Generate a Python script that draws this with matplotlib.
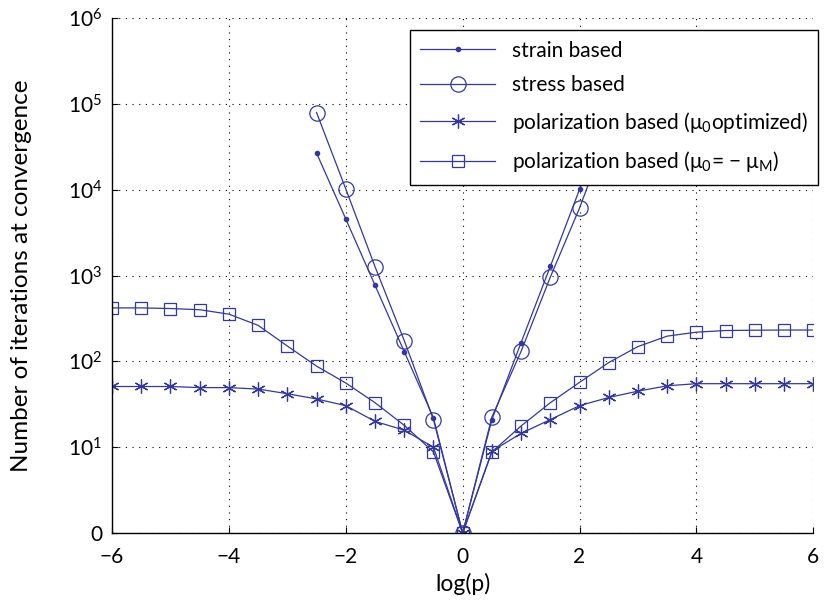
"""
Число итераций до сходимости в зависимости от log(p).
"""

import numpy as np
import matplotlib.pyplot as plt
from matplotlib.ticker import FixedLocator, NullLocator

# Данные
log_p_strain = [-2.5, -2, -1.5, -1, -0.5, 0, 0.5, 1, 1.5, 2, 2.5]
iter_strain = [26700, 4560, 770, 130, 22, 1, 21, 166, 1280, 10100, 80000]

log_p_stress = [-2.5, -2, -1.5, -1, -0.5, 0, 0.5, 1, 1.5, 2, 2.5]
iter_stress = [79200, 10200, 1270, 175, 21, 1, 22.5, 131, 960, 6130, 50000]

log_p_pol = [-6, -5.5, -5, -4.5, -4, -3.5, -3, -2.5, -2, -1.5, -1, -0.5, 0,
             0.5, 1, 1.5, 2, 2.5, 3, 3.5, 4, 4.5, 5, 5.5, 6]
iter_pol_opt = [51, 51, 51, 49.5, 49.5, 47.6, 42, 36.5, 30.5, 20, 15.8, 10, 1,
                9, 14.5, 21, 30.5, 38, 45, 52, 55, 55, 55, 55, 55]
iter_pol_mu = [420, 420, 413, 400, 355, 263, 151, 88, 56, 33, 18, 8.8, 1,
               8.8, 17.7, 33, 57, 97, 149, 197, 219, 229, 231, 232, 232]

x_ticks = [-6, -4, -2, 0, 2, 4, 6]
y_ticks = [1, 1e1, 1e2, 1e3, 1e4, 1e5, 1e6]
y_tick_labels = ['0', '$10^1$', '$10^2$', '$10^3$', '$10^4$', '$10^5$', '$10^6$']

labels = ['strain based',
          'stress based',
          'polarization based (μ$_0$optimized)',
          'polarization based (μ$_0$= − μ$_M$)']

plt.rcParams['font.family'] = ['Lato', 'DejaVu Sans']
plt.rcParams['mathtext.fontset'] = 'custom'
plt.rcParams['mathtext.rm'] = 'Lato'
plt.rcParams['mathtext.it'] = 'Lato'
plt.rcParams['axes.unicode_minus'] = True

color = '#3338a0'

fig = plt.figure(figsize=(8.24, 6.03), dpi=100)
ax = fig.add_axes([0.136, 0.116, 0.851, 0.854])

ax.plot(log_p_strain, iter_strain, '-', marker='.', color=color, lw=0.9,
        markersize=6, label=labels[0])
ax.plot(log_p_stress, iter_stress, '-', marker='o', color=color, lw=0.9,
        markersize=11, markerfacecolor='none', markeredgewidth=0.9,
        label=labels[1])
ax.plot(log_p_pol, iter_pol_opt, '-', marker=(6, 2, 0), color=color, lw=0.9,
        markersize=10, markeredgewidth=0.9, label=labels[2])
ax.plot(log_p_pol, iter_pol_mu, '-', marker='s', color=color, lw=0.9,
        markersize=9, markerfacecolor='none', markeredgewidth=0.9,
        label=labels[3])

ax.set_yscale('log')
ax.set_xlim(-6, 6)
ax.set_ylim(1, 1e6)
ax.xaxis.set_major_locator(FixedLocator(x_ticks))
ax.yaxis.set_major_locator(FixedLocator(y_ticks))
ax.yaxis.set_minor_locator(NullLocator())
ax.set_yticklabels(y_tick_labels)
ax.tick_params(direction='in', length=4, width=0.8, labelsize=15)
ax.tick_params(axis='x', pad=10)
ax.tick_params(axis='y', pad=7)

ax.spines['top'].set_visible(False)
ax.spines['right'].set_visible(False)
for s in ('left', 'bottom'):
    ax.spines[s].set_linewidth(1.0)

ax.grid(True, which='major', color='black', linestyle=(0, (1, 5)),
        linewidth=0.8)

ax.set_xlabel('log(p)', fontsize=16.5, labelpad=4)
ax.set_ylabel('Number of iterations at convergence', fontsize=17.5,
              labelpad=26)

leg = ax.legend(loc='upper right', bbox_to_anchor=(0.993, 0.950),
                bbox_transform=fig.transFigure, borderaxespad=0,
                fontsize=15, fancybox=False, framealpha=1,
                edgecolor='black', handlelength=3.6, labelspacing=0.7,
                borderpad=0.5)
leg.get_frame().set_linewidth(1.0)

fig.savefig('out.png', dpi=100)
